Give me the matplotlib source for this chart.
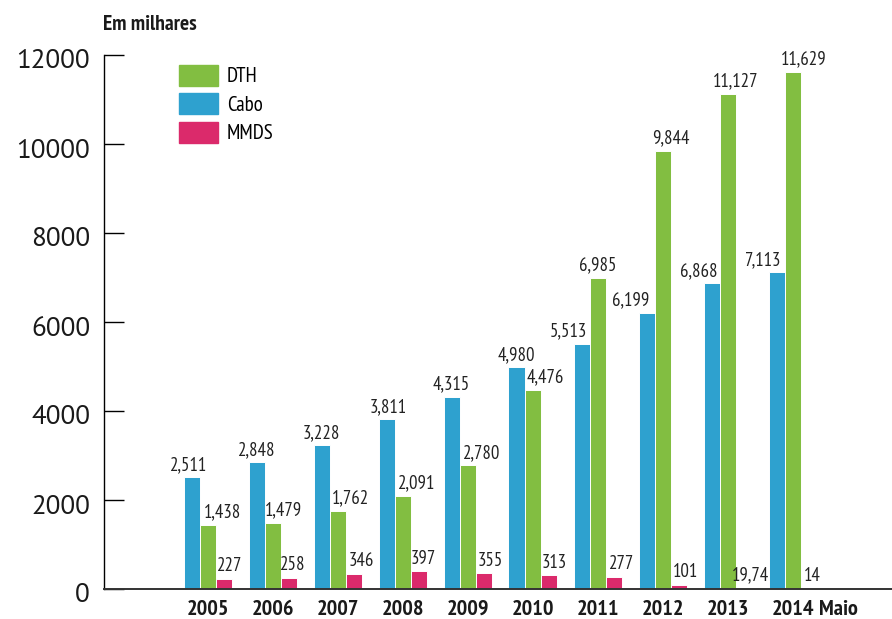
import numpy as np
import matplotlib
matplotlib.use("Agg")
import matplotlib.pyplot as plt
from matplotlib.patches import Patch
from matplotlib.transforms import ScaledTranslation

anos = ['2005', '2006', '2007', '2008', '2009', '2010', '2011', '2012', '2013', '2014']
cabo = [2511, 2848, 3228, 3811, 4315, 4980, 5513, 6199, 6868, 7113]
dth = [1438, 1479, 1762, 2091, 2780, 4476, 6985, 9844, 11127, 11629]
mmds = [227, 258, 346, 397, 355, 313, 277, 101, 19.74, 14]

# horizontal nudge of the value labels (pixels)
off_cabo = [-3, 0, 0, 2, 0, 0, -13, -16, -13, -14]
off_dth = [15, 11, 13, 14, 14, 13, 0, 8, 8, 11]
off_mmds = [6, 4, 8, 5, 7, 6, 8, 7, 7, 4]

azul = '#2ea1cf'
verde = '#82be41'
rosa = '#db2a6b'

narrow = ['PT Sans Narrow', 'Roboto Condensed', 'DejaVu Sans']
regular = ['PT Sans', 'Open Sans', 'DejaVu Sans']

fig = plt.figure(figsize=(8.92, 6.19), dpi=100)
ax = fig.add_axes([104/892, 30/619, 788/892, 534/619])

x = np.arange(len(anos))
w = 16/65
ax.bar(x - w, cabo, w, color=azul, edgecolor='white', linewidth=0.7)
ax.bar(x, dth, w, color=verde, edgecolor='white', linewidth=0.7)
ax.bar(x + w, mmds, w, color=rosa, edgecolor='white', linewidth=0.7)


def fmt(v):
    if float(v).is_integer():
        return f"{int(v):,}"
    return str(v).replace('.', ',')


for vals, dx, offs in [(cabo, -w, off_cabo), (dth, 0, off_dth), (mmds, w, off_mmds)]:
    for i, v in enumerate(vals):
        ax.annotate(fmt(v), (x[i] + dx, v), xytext=(offs[i]*0.72, 2.5),
                    textcoords='offset points', ha='center', va='bottom',
                    fontsize=13.5, family=narrow, color='#222222',
                    annotation_clip=False)

ax.set_xlim((104-207.5)/65, (892-207.5)/65)
ax.set_ylim(0, 12000)
ax.set_yticks(range(0, 12001, 2000))
ax.set_xticks(x)
ax.set_xticklabels(anos, family=narrow, fontweight='bold', fontsize=16, color='#1a1a1a')
ax.tick_params(axis='x', length=0, pad=8)
ax.tick_params(axis='y', direction='in', length=14.4, width=1, pad=10, labelsize=19.5)
for lab in ax.get_yticklabels():
    lab.set_family(regular)
    lab.set_color('#1a1a1a')
    lab.set_transform(lab.get_transform() + ScaledTranslation(0, -4/100, fig.dpi_scale_trans))

# 'Maio' sits right of the 2014 label
ax.text(x[-1] + 26/65, -0.021, 'Maio', transform=ax.get_xaxis_transform(), ha='left', va='top',
        fontsize=16, fontweight='bold', family=narrow, color='#1a1a1a')

for s in ['top', 'right']:
    ax.spines[s].set_visible(False)
ax.spines['left'].set_linewidth(1)
ax.spines['bottom'].set_linewidth(1.4)
ax.spines['bottom'].set_color('#333333')

fig.text(103/892, 1 - 24/619, 'Em milhares', ha='left', va='center', fontsize=15.5,
         fontweight='bold', family=narrow, color='#1a1a1a')

handles = [Patch(color=verde, label='DTH'), Patch(color=azul, label='Cabo'),
           Patch(color=rosa, label='MMDS')]
fs = 15
ax.legend(handles=handles, loc='upper left', bbox_to_anchor=(179/892, 1 - 65/619),
          bbox_transform=fig.transFigure, frameon=False, borderpad=0, borderaxespad=0,
          prop={'family': narrow, 'size': fs}, handlelength=39/(fs/0.72),
          handleheight=24/(fs/0.72), labelspacing=7/(fs/0.72),
          handletextpad=9/(fs/0.72))

fig.savefig('out.png', dpi=100)
